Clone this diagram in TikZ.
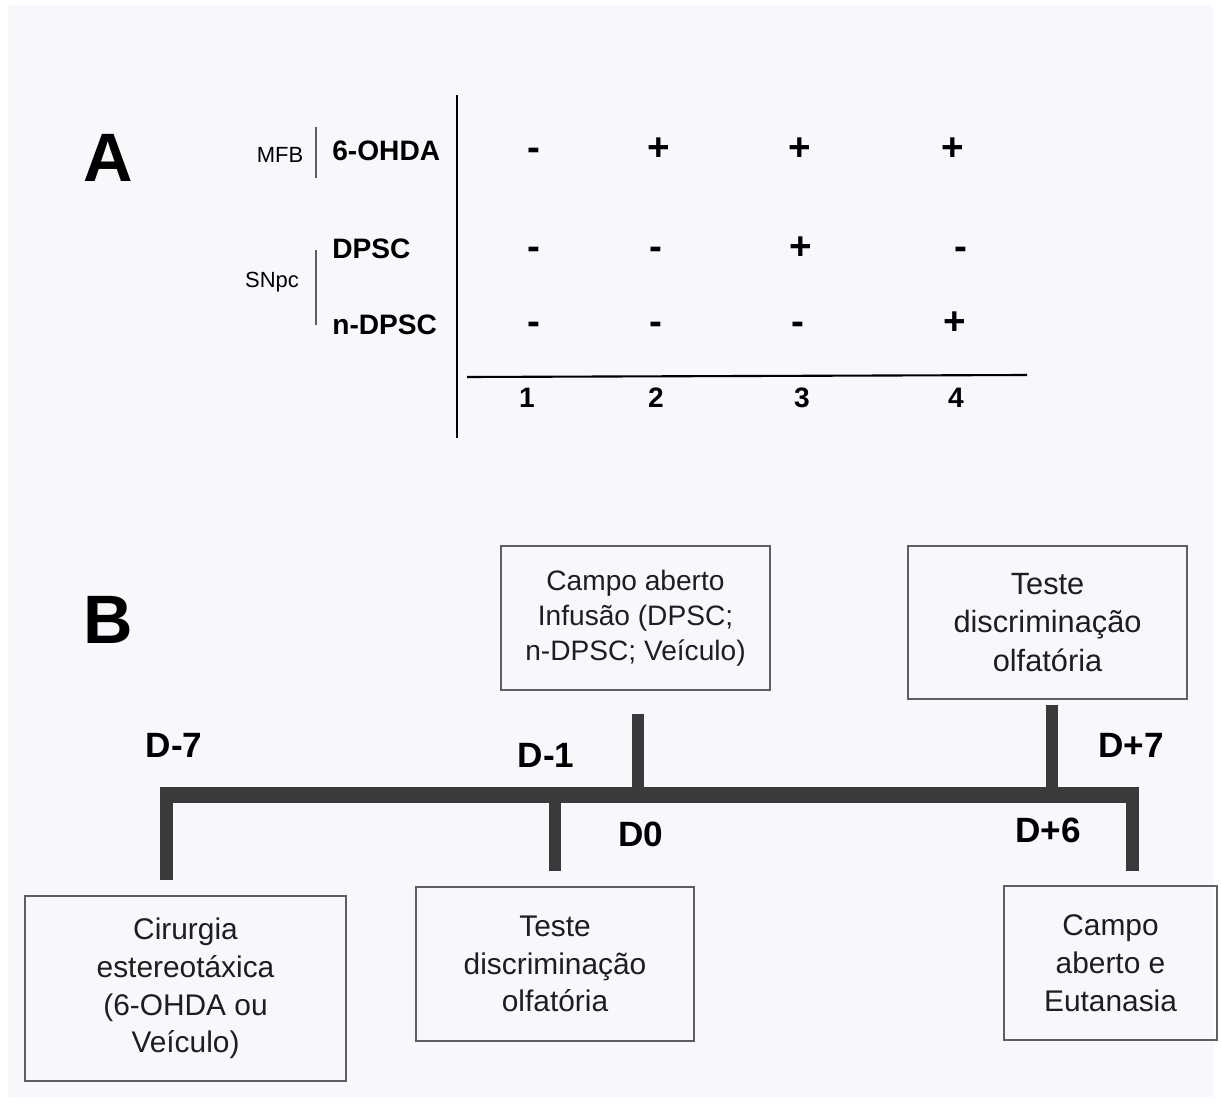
\documentclass[tikz,border=0pt]{standalone}
\usepackage{fontspec}
\setmainfont{Liberation Sans}
\definecolor{bgcol}{RGB}{248,248,252}
\definecolor{barcol}{RGB}{58,58,58}
\definecolor{boxline}{RGB}{95,95,95}
\definecolor{txtcol}{RGB}{30,30,30}
\tikzset{
  panel/.style={font=\bfseries\fontsize{39}{44}\selectfont},
  rowlbl/.style={anchor=base west,font=\bfseries\fontsize{16}{19}\selectfont},
  site/.style={anchor=base,font=\fontsize{12.5}{15}\selectfont},
  sgn/.style={anchor=base,font=\bfseries\fontsize{22}{26}\selectfont},
  grp/.style={anchor=base,font=\bfseries\fontsize{16}{19}\selectfont},
  day/.style={anchor=base,font=\bfseries\fontsize{20}{24}\selectfont},
  stage/.style={draw=boxline,line width=1pt,align=center,text=txtcol,
    font=\fontsize{17}{21.5}\selectfont},
  bar/.style={draw=barcol,line width=9pt},
  tick/.style={draw=barcol,line width=7pt}
}
\begin{document}
\begin{tikzpicture}[x=0.02cm,y=-0.02cm,every node/.style={inner sep=0pt}]
  \useasboundingbox (0,0) rectangle (1222,1104);
  \fill[white] (0,0) rectangle (1222,1104);
  \fill[bgcol] (8,5) rectangle (1214,1097);

  % panel A
  \node[panel] (pa) at (108,158) {A};

  \node[site] (mfb) at (280,163) {MFB};
  \node[site] (snpc) at (272,288) {SNpc};
  \draw[boxline,line width=0.6pt] (316,127) -- (316,178);
  \draw[boxline,line width=0.6pt] (316,250) -- (316,325);

  \node[rowlbl] (ohda) at (332,161) {6-OHDA};
  \node[rowlbl] (dpsc) at (332,259) {DPSC};
  \node[rowlbl] (ndpsc) at (332,335) {n-DPSC};

  \draw[line width=1.4pt] (457,95) -- (457,438);
  \draw[line width=1.2pt] (467,377) -- (1027,375);

  \node[sgn] (s11) at (534,161) {-};
  \node[sgn] (s12) at (659,161) {+};
  \node[sgn] (s13) at (800,161) {+};
  \node[sgn] (s14) at (953,161) {+};

  \node[sgn] (s21) at (534,260) {-};
  \node[sgn] (s22) at (656,260) {-};
  \node[sgn] (s23) at (801,260) {+};
  \node[sgn] (s24) at (961,260) {-};

  \node[sgn] (s31) at (534,335) {-};
  \node[sgn] (s32) at (656,335) {-};
  \node[sgn] (s33) at (798,335) {-};
  \node[sgn] (s34) at (955,335) {+};

  \node[grp] (g1) at (527,407) {1};
  \node[grp] (g2) at (656,407) {2};
  \node[grp] (g3) at (802,407) {3};
  \node[grp] (g4) at (956,407) {4};

  % panel B
  \node[panel] (pb) at (108,620) {B};

  \node[stage,minimum width=5.38cm,minimum height=2.88cm,
    font=\fontsize{16}{19.8}\selectfont] (open0) at (635.5,618)
    {Campo aberto\\Infusão (DPSC;\\n-DPSC; Veículo)};
  \node[stage,minimum width=5.58cm,minimum height=3.06cm,
    font=\fontsize{17.5}{22}\selectfont] (olf6) at (1047.5,622.5)
    {Teste\\discriminação\\olfatória};
  \node[stage,minimum width=6.42cm,minimum height=3.70cm] (surg) at (185.5,988.5)
    {Cirurgia\\estereotáxica\\(6-OHDA ou\\Veículo)};
  \node[stage,minimum width=5.56cm,minimum height=3.08cm] (olf1) at (555,964)
    {Teste\\discriminação\\olfatória};
  \node[stage,minimum width=4.26cm,minimum height=3.08cm] (euth) at (1110.5,963)
    {Campo\\aberto e\\Eutanasia};

  \coordinate (tstart) at (160,795);
  \coordinate (tend) at (1139,795);
  \coordinate (dm7) at (166.5,795);
  \coordinate (dm1) at (555,795);
  \coordinate (d0) at (638,795);
  \coordinate (dp6) at (1052,795);
  \coordinate (dp7) at (1132.5,795);
  \coordinate (dm7e) at (166.5,880);
  \coordinate (dm1e) at (555,871);
  \coordinate (d0e) at (638,714);
  \coordinate (dp6e) at (1052,705);
  \coordinate (dp7e) at (1132.5,871);

  \draw[bar] (tstart) -- (tend);
  \draw[tick] (dm7) -- (dm7e);
  \draw[tick] (dm1) -- (dm1e);
  \draw[tick] (d0) -- (d0e);
  \draw[tick] (dp6) -- (dp6e);
  \draw[tick] (dp7) -- (dp7e);

  \node[day] (lm7) at (174,757) {D-7};
  \node[day] (lm1) at (546,767) {D-1};
  \node[day] (l0) at (641,846) {D0};
  \node[day] (lp6) at (1048,842) {D+6};
  \node[day] (lp7) at (1131,757) {D+7};
\end{tikzpicture}
\end{document}
